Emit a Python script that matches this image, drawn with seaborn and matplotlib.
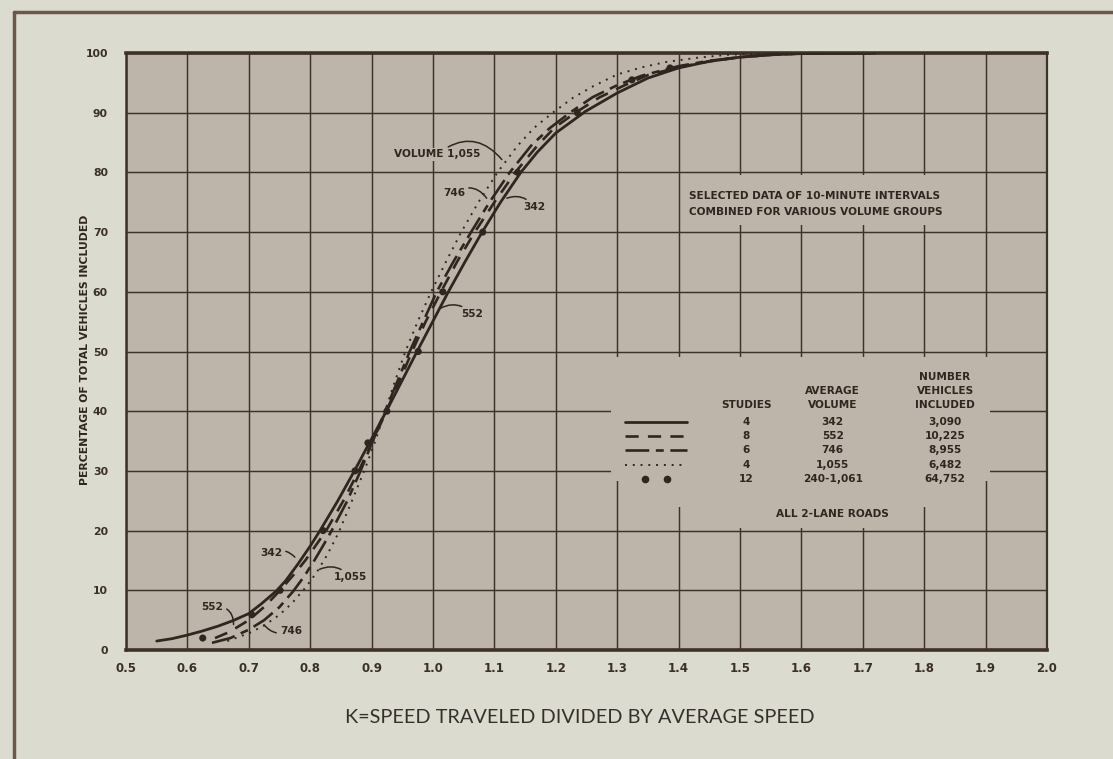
import matplotlib
matplotlib.use("Agg")
import matplotlib.pyplot as plt
from matplotlib.lines import Line2D
from matplotlib.patches import Rectangle
import pandas as pd
import seaborn as sns

# Cumulative percentage of vehicles (pct) reached at each K value, per volume group
k_342 = [0.55, 0.575, 0.60, 0.625, 0.65, 0.675, 0.70, 0.72, 0.745, 0.76, 0.78, 0.80,
         0.816, 0.845, 0.872, 0.898, 0.924, 0.949, 0.974, 0.9995, 1.025, 1.052, 1.08,
         1.11, 1.143, 1.17, 1.20, 1.248, 1.30, 1.35, 1.40, 1.45, 1.50, 1.55, 1.60, 1.72]
pct_342 = [1.5, 1.9, 2.5, 3.2, 4.0, 4.95, 6.1, 7.7, 9.9, 11.6, 14.4, 17.4,
           20, 25, 30, 35, 40, 45, 50, 55, 60, 65, 70,
           75, 80, 83.4, 86.6, 90.2, 93.3, 95.8, 97.5, 98.6, 99.3, 99.7, 99.9, 100]

k_552 = [0.645, 0.668, 0.70, 0.726, 0.751, 0.773, 0.792, 0.826, 0.854, 0.879, 0.902,
         0.924, 0.945, 0.966, 0.988, 1.013, 1.039, 1.068, 1.10, 1.134, 1.17, 1.198,
         1.232, 1.27, 1.31, 1.35, 1.40, 1.45, 1.50, 1.55, 1.62, 1.72]
pct_552 = [2.0, 3.0, 5.0, 7.3, 10, 12.6, 15, 20, 25, 30, 35,
           40, 45, 50, 55, 60, 65, 70, 75, 80, 84.5, 87.5,
           90, 92.5, 94.5, 96.3, 97.6, 98.6, 99.3, 99.7, 100, 100]

k_746 = [0.64, 0.67, 0.70, 0.725, 0.75, 0.772, 0.79, 0.805, 0.82, 0.835, 0.86, 0.882,
         0.902, 0.922, 0.942, 0.962, 0.984, 1.006, 1.033, 1.062, 1.092, 1.125, 1.16,
         1.19, 1.223, 1.26, 1.30, 1.34, 1.40, 1.45, 1.50, 1.55, 1.62, 1.72]
pct_746 = [1.2, 2.0, 3.4, 5.0, 7.2, 9.8, 12.3, 14.7, 17.3, 20, 24.9, 30,
           35, 40, 45, 50, 55, 60, 65, 70, 75, 80, 84.5,
           87.4, 90, 92.6, 94.6, 96.2, 97.8, 98.7, 99.3, 99.7, 100, 100]

k_1055 = [0.665, 0.70, 0.725, 0.75, 0.77, 0.791, 0.81, 0.828, 0.846, 0.868, 0.888,
          0.906, 0.922, 0.938, 0.955, 0.975, 0.997, 1.021, 1.046, 1.074, 1.105, 1.138,
          1.165, 1.195, 1.228, 1.262, 1.30, 1.34, 1.38, 1.43, 1.48, 1.55, 1.72]
pct_1055 = [1.5, 2.8, 4.1, 5.9, 7.8, 10.3, 12.9, 16.0, 19.6, 25, 30,
            35, 40, 45, 50, 55, 60, 65, 70, 75, 80, 84.5,
            87.5, 90, 92.5, 94.5, 96.4, 97.6, 98.5, 99.2, 99.7, 100, 100]

# Observed points, all 2-lane studies combined
dot_k = [0.625, 0.705, 0.751, 0.821, 0.873, 0.894, 0.925, 0.976, 1.016,
         1.081, 1.138, 1.235, 1.324, 1.386]
dot_pct = [2.0, 5.9, 10, 20, 30, 34.7, 40, 50, 60, 70, 80, 90, 95.5, 97.5]

# Legend table
studies = ["4", "8", "6", "4", "12"]
avg_volume = ["342", "552", "746", "1,055", "240-1,061"]
vehicles = ["3,090", "10,225", "8,955", "6,482", "64,752"]

x_ticks = [0.5, 0.6, 0.7, 0.8, 0.9, 1.0, 1.1, 1.2, 1.3, 1.4, 1.5, 1.6, 1.7, 1.8, 1.9, 2.0]
x_tick_labels = ["0.5", "0.6", "0.7", "0.8", "0.9", "1.0", "1.1", "1.2", "1.3",
                 "1.4", "1.5", "1.6", "1.7", "1.8", "1.9", "2.0"]
y_ticks = [0, 10, 20, 30, 40, 50, 60, 70, 80, 90, 100]

PAPER = "#dcdbcf"
PLOT_BG = "#bdb5aa"
INK = "#2f2620"
GRID = "#3d3128"

sns.set_theme(style="white", rc={"axes.facecolor": PLOT_BG, "figure.facecolor": PAPER})
plt.rcParams["font.family"] = ["DejaVu Sans"]

fig = plt.figure(figsize=(11.13, 7.59), dpi=100)
ax = fig.add_axes([126 / 1113, 1 - 650 / 759, (1047 - 126) / 1113, (650 - 53) / 759])

series = [
    ("342", k_342, pct_342, dict(linestyle="-", linewidth=2.0)),
    ("552", k_552, pct_552, dict(linestyle=(0, (5, 3.5)), linewidth=1.9)),
    ("746", k_746, pct_746, dict(linestyle=(0, (9, 2.5, 3, 2.5)), linewidth=1.9)),
    ("1,055", k_1055, pct_1055, dict(linestyle=(0, (1, 3)), linewidth=1.4)),
]
for name, ks, ps, style in series:
    df = pd.DataFrame({"k": ks, "pct": ps})
    sns.lineplot(data=df, x="k", y="pct", ax=ax, color=INK, sort=False,
                 estimator=None, legend=False, zorder=4, **style)

sns.scatterplot(x=dot_k, y=dot_pct, ax=ax, color=INK, s=26, edgecolor="none",
                legend=False, zorder=5)

ax.set_xlim(0.5, 2.0)
ax.set_ylim(0, 100)
ax.set_xticks(x_ticks)
ax.set_xticklabels(x_tick_labels)
ax.set_yticks(y_ticks)
ax.set_axisbelow(True)
ax.grid(True, color=GRID, linewidth=1.05)
ax.tick_params(axis="x", length=0, labelsize=8.5, colors="#3b3029", pad=9)
ax.tick_params(axis="y", length=0, labelsize=7.8, colors="#3b3029", pad=13)
for lab in ax.get_xticklabels() + ax.get_yticklabels():
    lab.set_fontweight("bold")
for side, lw in (("top", 2.6), ("bottom", 2.6), ("left", 1.8), ("right", 1.6)):
    ax.spines[side].set_color(GRID)
    ax.spines[side].set_linewidth(lw)

ax.set_xlabel("K=SPEED TRAVELED DIVIDED BY AVERAGE SPEED", family="Lato",
              fontsize=14.3, color="#35302b")
ax.xaxis.set_label_coords((580 - 126) / 921, (650 - 709) / 597)
ax.set_ylabel("PERCENTAGE OF TOTAL VEHICLES INCLUDED", fontsize=7.8, fontweight="bold",
              color=INK)
ax.yaxis.set_label_coords((90 - 126) / 921, (650 - 350) / 597)

# Cleared panels of the grid behind the lettering
for x0, y0, x1, y1 in [(1.29, 28.3, 1.907, 49.0), (1.35, 24.0, 1.85, 28.3),
                       (1.43, 20.4, 1.77, 24.0), (1.45, 71.2, 1.85, 79.5)]:
    ax.add_patch(Rectangle((x0, y0), x1 - x0, y1 - y0, facecolor=PLOT_BG,
                           edgecolor="none", zorder=1))

txt = dict(color=INK, fontsize=7.6, fontweight="bold")
ax.text(1.417, 76.1, "SELECTED DATA OF 10-MINUTE INTERVALS", ha="left", va="center", **txt)
ax.text(1.417, 73.4, "COMBINED FOR VARIOUS VOLUME GROUPS", ha="left", va="center", **txt)

# Legend table
col_s, col_v, col_n = 1.51, 1.651, 1.834
ax.text(col_n, 45.7, "NUMBER", ha="center", va="center", **txt)
ax.text(col_v, 43.4, "AVERAGE", ha="center", va="center", **txt)
ax.text(col_n, 43.4, "VEHICLES", ha="center", va="center", **txt)
ax.text(col_s, 41.0, "STUDIES", ha="center", va="center", **txt)
ax.text(col_v, 41.0, "VOLUME", ha="center", va="center", **txt)
ax.text(col_n, 41.0, "INCLUDED", ha="center", va="center", **txt)
row_y = [38.2, 35.8, 33.5, 31.0, 28.6]
for y, s, v, n in zip(row_y, studies, avg_volume, vehicles):
    ax.text(col_s, y, s, ha="center", va="center", **txt)
    ax.text(col_v, y, v, ha="center", va="center", **txt)
    ax.text(col_n, y, n, ha="center", va="center", **txt)
for (name, ks, ps, style), y in zip(series, row_y[:4]):
    ax.add_line(Line2D([1.313, 1.414], [y, y], color=INK, zorder=4, **style))
ax.add_line(Line2D([1.345, 1.381], [row_y[4], row_y[4]], color=INK, linestyle="none",
                   marker="o", markersize=4.5, zorder=4))
ax.text(1.65, 22.7, "ALL 2-LANE ROADS", ha="center", va="center", **txt)

# Curve call-outs
box = dict(facecolor=PLOT_BG, edgecolor="none", pad=0.8)
lead = dict(arrowstyle="-", color=INK, lw=1.1)
callouts = [
    ("VOLUME 1,055", (1.115, 81.8), (1.077, 83.0), "right", -0.5),
    ("746", (1.090, 75.3), (1.052, 76.5), "right", -0.5),
    ("342", (1.116, 75.5), (1.147, 74.2), "left", 0.4),
    ("552", (1.008, 57.0), (1.046, 56.3), "left", 0.4),
    ("342", (0.778, 15.2), (0.754, 16.2), "right", -0.4),
    ("1,055", (0.811, 13.3), (0.838, 12.2), "left", 0.4),
    ("552", (0.675, 3.8), (0.658, 7.2), "right", -0.6),
    ("746", (0.722, 4.6), (0.751, 3.2), "left", -0.4),
]
for label, xy, xytext, ha, rad in callouts:
    ax.annotate(label, xy=xy, xytext=xytext, ha=ha, va="center", bbox=box, zorder=6,
                arrowprops=dict(connectionstyle=f"arc3,rad={rad}", **lead), **txt)

# Page frame
fig.add_artist(Line2D([14 / 1113, 1.0], [1 - 12 / 759, 1 - 12 / 759],
                      transform=fig.transFigure, color="#6b5848", lw=2.5))
fig.add_artist(Line2D([14 / 1113, 14 / 1113], [0.0, 1 - 12 / 759],
                      transform=fig.transFigure, color="#6b5848", lw=2.5))

fig.savefig("out.png", dpi=100, facecolor=PAPER)
